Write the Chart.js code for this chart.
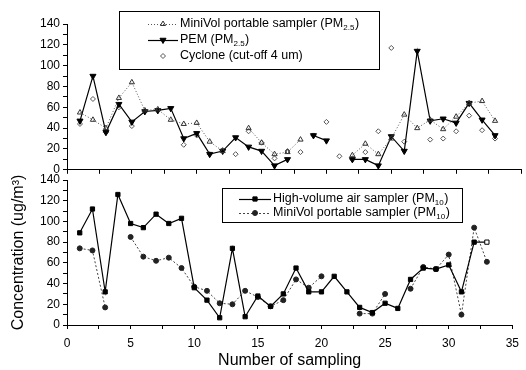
<!DOCTYPE html>
<html>
<head>
<meta charset="utf-8">
<script src="https://cdn.jsdelivr.net/npm/chart.js@4.4.0/dist/chart.umd.min.js"></script>
<style>
  body { margin: 0; background: #fff; }
  #wrap { position: relative; width: 526px; height: 370px; }
  #c1 { position: absolute; left: 0; top: 0; }
  #c2 { position: absolute; left: 0; top: 150px; }
</style>
</head>
<body>
<div id="wrap">
  <canvas id="c1" width="526" height="180"></canvas>
  <canvas id="c2" width="526" height="220"></canvas>
</div>
<script>
// sampling number (x values)
const samples = [1, 2, 3, 4, 5, 6, 7, 8, 9, 10, 11, 12, 13, 14, 15, 16, 17,
  18, 19, 20, 21, 22, 23, 24, 25, 26, 27, 28, 29, 30, 31, 32, 33];

// top panel, PM2.5 / cyclone
const miniVolPM25 = [55, 48, 40, 69, 84, 57, 58, 48, 44, 45, 27, 18, null, 40, 26, 15, 17,
  29, null, null, null, 14, 25, 15, 30, 53, 40, 48, 39, 51, 64, 66, 47];
const pemPM25 = [47, 90, 36, 63, 46, 56, 57, 59, 30, 35, 15, 18, 31, 22, 18, 4, 10,
  null, 33, 28, null, 10, 10, 4, 32, 18, 114, 47, 49, 45, 64, 48, 33];
const cyclone = [44, 68, 36, 60, 42, 56, 57, null, 24, 33, 15, 19, 15, 37, 26, 11, 18,
  17, 33, 46, 13, 10, 17, 37, 117, 27, null, 29, 30, 37, 52, 38, 30];

// bottom panel, PM10
const hiVolPM10 = [89, 112, 32, 126, 98, 94, 107, 98, 103, 36, 24, 7, 74, 8, 28, 18, 30,
  55, 32, 32, 47, 32, 17, 12, 21, 16, 44, 55, 54, 58, 32, 80, 80];
const miniVolPM10 = [74, 72, 17, null, 85, 66, 62, 65, 55, 37, 33, 21, 20, 33, 27, 18, 24,
  44, 36, 47, null, null, 11, 11, 30, null, 35, 56, 54, 68, 10, 94, 61];

const yTicks = [0, 20, 40, 60, 80, 100, 120, 140];
const xTicks = [0, 5, 10, 15, 20, 25, 30, 35];

const FONT = 'Arial, "Liberation Sans", Helvetica, sans-serif';
Chart.defaults.font.family = FONT;
Chart.defaults.color = '#000';

const pts = arr => samples.map((x, i) => ({ x, y: arr[i] }));

// legend drawn on the canvas so the subscripts can be kept
const boxLegend = {
  id: 'boxLegend',
  afterDraw(chart, args, o) {
    const ctx = chart.ctx;
    ctx.save();
    ctx.strokeStyle = '#000';
    ctx.lineWidth = 1;
    ctx.setLineDash([]);
    ctx.strokeRect(o.x + 0.5, o.y + 0.5, o.w, o.h);
    o.rows.forEach((r, i) => {
      const ds = chart.data.datasets[r.ds];
      const y = o.y + o.first + i * o.gap;
      if (ds.showLine !== false) {
        ctx.strokeStyle = ds.borderColor;
        ctx.lineWidth = ds.borderWidth;
        ctx.setLineDash(ds.borderDash || []);
        ctx.beginPath();
        ctx.moveTo(o.x + o.l0, y + 0.5);
        ctx.lineTo(o.x + o.l1, y + 0.5);
        ctx.stroke();
      }
      ctx.setLineDash([]);
      ctx.fillStyle = ds.pointBackgroundColor;
      ctx.strokeStyle = ds.pointBorderColor;
      ctx.lineWidth = 1;
      Chart.helpers.drawPoint(ctx, {
        pointStyle: ds.pointStyle, radius: ds.pointRadius,
        rotation: ds.pointRotation || 0, borderWidth: 1
      }, o.x + (o.l0 + o.l1) / 2, y);
      let tx = o.x + o.tx;
      ctx.fillStyle = '#000';
      ctx.textBaseline = 'middle';
      r.text.forEach(part => {
        const sub = Array.isArray(part);
        const s = sub ? part[0] : part;
        ctx.font = (sub ? '8px ' : '12.5px ') + FONT;
        ctx.fillText(s, tx, sub ? y + 4 : y);
        tx += ctx.measureText(s).width + (sub ? 0.5 : 0);
      });
    });
    ctx.restore();
  }
};

const axisGrid = { drawOnChartArea: false, drawTicks: true, tickLength: 4, color: '#000' };
const axisBorder = { color: '#000', width: 1 };

const yScale = (w, title) => ({
  min: 0, max: 140,
  ticks: {
    stepSize: 10, autoSkip: false, padding: 3, font: { size: 12 },
    callback: v => yTicks.includes(v) ? v : ''
  },
  grid: axisGrid, border: axisBorder,
  title: title,
  afterFit(s) { s.width = w; }
});

new Chart(document.getElementById('c1'), {
  type: 'line',
  data: {
    datasets: [
      {
        label: 'MiniVol portable sampler (PM2.5)', data: pts(miniVolPM25),
        borderColor: '#555', borderWidth: 1, borderDash: [1, 2],
        pointStyle: 'triangle', pointRadius: 3, pointBorderColor: '#333',
        pointBackgroundColor: 'rgba(255,255,255,0)', pointBorderWidth: 1
      },
      {
        label: 'PEM (PM2.5)', data: pts(pemPM25),
        borderColor: '#000', borderWidth: 1.2,
        pointStyle: 'triangle', pointRotation: 180, pointRadius: 3.5,
        pointBorderColor: '#000', pointBackgroundColor: '#000', pointBorderWidth: 1
      },
      {
        label: 'Cyclone (cut-off 4 um)', data: pts(cyclone), showLine: false,
        borderColor: '#666', borderWidth: 1,
        pointStyle: 'rectRot', pointRadius: 2.5, pointBorderColor: '#555',
        pointBackgroundColor: 'rgba(255,255,255,0)', pointBorderWidth: 1
      }
    ]
  },
  options: {
    responsive: false, animation: false,
    layout: { padding: { top: 24, right: 3, left: 0, bottom: 0 } },
    scales: {
      x: {
        type: 'linear', min: 0, max: 35,
        ticks: { stepSize: 2.5, display: false },
        grid: axisGrid, border: axisBorder,
        afterFit(s) { s.height = 8; }
      },
      y: yScale(67)
    },
    plugins: {
      legend: { display: false }, tooltip: { enabled: false },
      boxLegend: {
        x: 119, y: 11, w: 260, h: 58, first: 13, gap: 16, l0: 29, l1: 59, tx: 61,
        rows: [
          { ds: 0, text: ['MiniVol portable sampler (PM', ['2.5'], ')'] },
          { ds: 1, text: ['PEM (PM', ['2.5'], ')'] },
          { ds: 2, text: ['Cyclone (cut-off 4 um)'] }
        ]
      }
    }
  },
  plugins: [boxLegend]
});

new Chart(document.getElementById('c2'), {
  type: 'line',
  data: {
    datasets: [
      {
        label: 'High-volume air sampler (PM10)', data: pts(hiVolPM10),
        borderColor: '#000', borderWidth: 1.2,
        pointStyle: 'rect', pointRadius: 3, pointBorderColor: '#000',
        pointBackgroundColor: c => c.dataIndex === samples.length - 1 ? '#fff' : '#000',
        pointBorderWidth: 1
      },
      {
        label: 'MiniVol portable sampler (PM10)', data: pts(miniVolPM10),
        borderColor: '#444', borderWidth: 1, borderDash: [2, 2],
        pointStyle: 'circle', pointRadius: 2.5, pointBorderColor: '#222',
        pointBackgroundColor: '#222', pointBorderWidth: 1
      }
    ]
  },
  options: {
    responsive: false, animation: false,
    layout: { padding: { top: 30, right: 3, left: 9, bottom: 0 } },
    scales: {
      x: {
        type: 'linear', min: 0, max: 35,
        ticks: {
          stepSize: 2.5, autoSkip: false, padding: 7, font: { size: 12 },
          maxRotation: 0, callback: v => xTicks.includes(v) ? v : ''
        },
        grid: axisGrid, border: axisBorder,
        title: { display: true, text: 'Number of sampling', font: { size: 16 }, padding: 0 },
        afterFit(s) { s.height = 45; }
      },
      y: yScale(58, { display: true, text: 'Concentration (ug/m³)', font: { size: 16 }, padding: 0 })
    },
    plugins: {
      legend: { display: false }, tooltip: { enabled: false },
      boxLegend: {
        x: 222, y: 38, w: 240, h: 34, first: 11, gap: 14, l0: 17, l1: 49, tx: 51,
        rows: [
          { ds: 0, text: ['High-volume air sampler (PM', ['10'], ')'] },
          { ds: 1, text: ['MiniVol portable sampler (PM', ['10'], ')'] }
        ]
      }
    }
  },
  plugins: [boxLegend]
});
</script>
</body>
</html>
